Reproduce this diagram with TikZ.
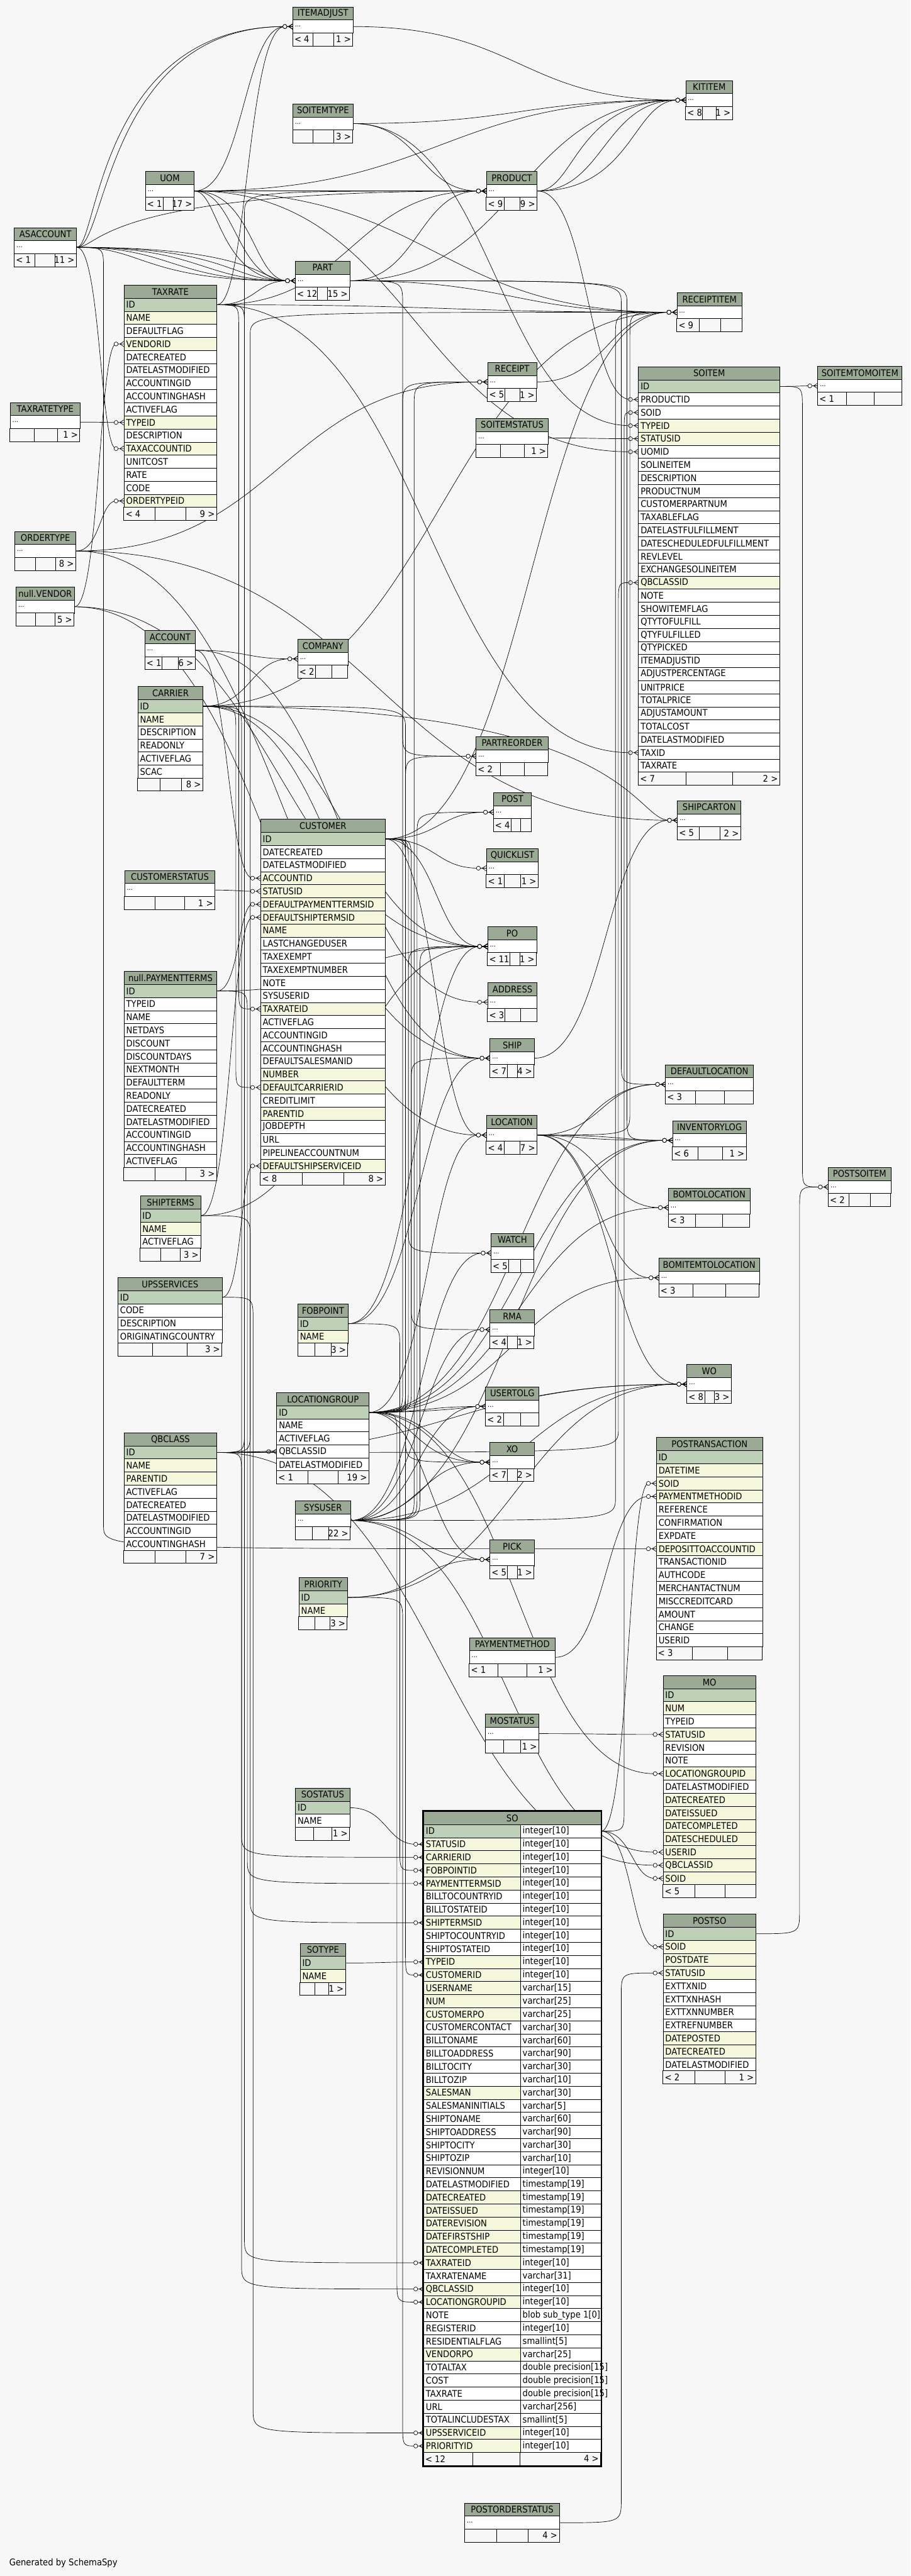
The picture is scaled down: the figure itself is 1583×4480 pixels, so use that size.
\documentclass[tikz,border=0pt]{standalone}
\usepackage{fontspec}
\setmainfont{DejaVu Sans}[FakeStretch=0.9]
\usetikzlibrary{calc}
\definecolor{bgc}{HTML}{F7F7F7}
\definecolor{hdrc}{HTML}{9BAA94}
\definecolor{pkc}{HTML}{BED0B8}
\definecolor{ixc}{HTML}{F4F7DC}
\pgfdeclarelayer{back}\pgfdeclarelayer{edges}\pgfsetlayers{back,edges,main}
\newcommand\tfont{\fontsize{16}{18}\selectfont}
\newcommand\dfont{\fontsize{12}{14}\selectfont}
\def\rh{22.75}
\tikzset{
 tb/.style={draw=black,line width=0.9pt},
 hdr/.style={draw=black,line width=0.9pt,fill=hdrc,anchor=north west,minimum height=\rh,inner sep=0pt,font=\tfont},
 cell/.style={draw=black,line width=0.9pt,anchor=north west,minimum height=\rh,inner sep=0pt,fill=white},
 txt/.style={anchor=west,inner xsep=4pt,inner ysep=0pt,font=\tfont},
 ft/.style={inner xsep=3pt,inner ysep=0pt,font=\tfont},
 rel/.style={draw=black,line width=0.75pt},
 crow/.pic={
  \draw[line width=0.75pt] (-10,0) -- (0,0) (-7,0) -- (0,-4.5) (-7,0) -- (0,4.5);
  \draw[line width=0.75pt,fill=white] (-13.5,0) circle[radius=3.5pt];}
}
% footer: x, y, w, d1, d2, left, right
\newcommand\tfoot[7]{%
  \draw[tb,fill=bgc] ({#1},{#2}) rectangle ++(#3,\rh);
  \draw[tb] ({#4},{#2}) -- ++(0,\rh) ({#5},{#2}) -- ++(0,\rh);
  \node[ft,anchor=west] at ({#1},{#2+\rh/2}) {#6};
  \node[ft,anchor=east] at ({#1+#3},{#2+\rh/2}) {#7};}
% collapsed table: id, x, y, w, title, d1, d2, left, right
\newcommand\ctbl[9]{%
  \node[hdr,minimum width=#4] (#1) at ({#2},{#3}) {#5};
  \node[cell,minimum width=#4] (#1-d) at ({#2},{#3+\rh}) {};
  \node[txt,font=\dfont] at (#1-d.west) {...};
  \tfoot{#2}{#3+2*\rh}{#4}{#6}{#7}{#8}{#9}}
% expanded table: id, x, y, w, title, rows
\newcommand\etbl[6]{%
  \node[hdr,minimum width=#4] (#1) at ({#2},{#3}) {#5};
  \foreach \rn/\rs [count=\i] in {#6} {%
    \node[cell,fill=\rs,minimum width=#4] (#1-\rn) at ({#2},{#3+\i*\rh}) {};
    \node[txt] at (#1-\rn.west) {\rn};}}
% relationships
\newcommand\fk[3][fkm]{%
  \coordinate (fkm) at ($(#2.east)!0.5!(#3.west)$);
  \draw[rel] (#2.east) .. controls (#2.east -| #1) and (#3.west -| #1) .. ($(#3.west)+(-13.5,0)$);
  \pic at (#3.west) {crow};}
\newcommand\fkd[3]{%
  \draw[rel] (#2.east) .. controls (#2.east -| #1) .. ($(#2.east -| #1)+(0,40)$) -- ($(#3.west -| #1)+(0,-40)$) .. controls (#3.west -| #1) .. ($(#3.west)+(-13.5,0)$);
  \pic at (#3.west) {crow};}
\newcommand\fku[3]{%
  \draw[rel] (#2.east) .. controls (#2.east -| #1) .. ($(#2.east -| #1)+(0,-40)$) -- ($(#3.west -| #1)+(0,40)$) .. controls (#3.west -| #1) .. ($(#3.west)+(-13.5,0)$);
  \pic at (#3.west) {crow};}

\begin{document}
\begin{tikzpicture}[x=1pt,y=-1pt]
\useasboundingbox (0,0) rectangle (1583,4480);
\begin{pgfonlayer}{back}\fill[bgc] (0,0) rectangle (1583,4480);\end{pgfonlayer}

\ctbl{ITEMADJUST}{508.7}{11.6}{104.6}{ITEMADJUST}{544.4}{579.6}{< 4}{1 >}
\ctbl{SOITEMTYPE}{508.7}{180.3}{104.6}{SOITEMTYPE}{544.4}{579.6}{}{3 >}
\ctbl{UOM}{252.6}{297.6}{84.6}{UOM}{284.2}{301}{< 1}{17 >}
\ctbl{ASACCOUNT}{24.5}{395.5}{108.2}{ASACCOUNT}{60.7}{95.4}{< 1}{11 >}
\ctbl{PART}{513.3}{453.7}{94.4}{PART}{552}{569.4}{< 12}{15 >}
\etbl{TAXRATE}{215.3}{495.4}{161.2}{TAXRATE}{ID/pkc,NAME/ixc,DEFAULTFLAG/white,VENDORID/ixc,DATECREATED/white,DATELASTMODIFIED/white,ACCOUNTINGID/white,ACCOUNTINGHASH/white,ACTIVEFLAG/white,TYPEID/ixc,DESCRIPTION/white,TAXACCOUNTID/ixc,UNITCOST/white,RATE/white,CODE/white,ORDERTYPEID/ixc}
\tfoot{215.3}{495.4+17*\rh}{161.2}{269.4}{323.5}{< 4}{9 >}
\ctbl{TAXRATETYPE}{17.3}{699.5}{121.5}{TAXRATETYPE}{59.7}{99.5}{}{1 >}
\ctbl{ORDERTYPE}{25.5}{923.7}{106.1}{ORDERTYPE}{61.7}{96.4}{}{8 >}
\ctbl{NVENDOR}{27.6}{1020.7}{101}{null.VENDOR}{61.7}{95.4}{}{5 >}
\ctbl{ACCOUNT}{251.5}{1096.3}{87.8}{ACCOUNT}{281.1}{309.7}{< 1}{6 >}
\ctbl{COMPANY}{517.3}{1111.3}{87.3}{COMPANY}{548.5}{576.5}{< 2}{}
\etbl{CARRIER}{239.3}{1193.7}{113.3}{CARRIER}{ID/pkc,NAME/ixc,DESCRIPTION/white,READONLY/white,ACTIVEFLAG/white,SCAC/white}
\tfoot{239.3}{1193.7+7*\rh}{113.3}{278.1}{315.8}{}{8 >}
\etbl{CUSTOMER}{452.6}{1424.4}{216.8}{CUSTOMER}{ID/pkc,DATECREATED/white,DATELASTMODIFIED/white,ACCOUNTID/ixc,STATUSID/ixc,DEFAULTPAYMENTTERMSID/ixc,DEFAULTSHIPTERMSID/ixc,NAME/ixc,LASTCHANGEDUSER/white,TAXEXEMPT/white,TAXEXEMPTNUMBER/white,NOTE/white,SYSUSERID/white,TAXRATEID/ixc,ACTIVEFLAG/white,ACCOUNTINGID/white,ACCOUNTINGHASH/white,DEFAULTSALESMANID/white,NUMBER/ixc,DEFAULTCARRIERID/ixc,CREDITLIMIT/white,PARENTID/ixc,JOBDEPTH/white,URL/white,PIPELINEACCOUNTNUM/white,DEFAULTSHIPSERVICEID/ixc}
\tfoot{452.6}{1424.4+27*\rh}{216.8}{525.5}{597.4}{< 8}{8 >}
\ctbl{CUSTOMERSTATUS}{216.3}{1513.4}{157.2}{CUSTOMERSTATUS}{269.4}{321.4}{}{1 >}
\etbl{NPAYTERMS}{215.3}{1688.9}{161.2}{null.PAYMENTTERMS}{ID/pkc,TYPEID/white,NAME/white,NETDAYS/white,DISCOUNT/white,DISCOUNTDAYS/white,NEXTMONTH/white,DEFAULTTERM/white,READONLY/white,DATECREATED/white,DATELASTMODIFIED/white,ACCOUNTINGID/white,ACCOUNTINGHASH/white,ACTIVEFLAG/white}
\tfoot{215.3}{1688.9+15*\rh}{161.2}{269.4}{323.5}{}{3 >}
\etbl{SHIPTERMS}{243.4}{2079.6}{105.1}{SHIPTERMS}{ID/pkc,NAME/ixc,ACTIVEFLAG/white}
\tfoot{243.4}{2079.6+4*\rh}{105.1}{279.6}{312.8}{}{3 >}
\etbl{UPSSERVICES}{204.6}{2221.5}{181.1}{UPSSERVICES}{ID/pkc,CODE/white,DESCRIPTION/white,ORIGINATINGCOUNTRY/white}
\tfoot{204.6}{2221.5+5*\rh}{181.1}{265.3}{325.5}{}{3 >}
\etbl{FOBPOINT}{517.3}{2267.5}{87.3}{FOBPOINT}{ID/pkc,NAME/ixc}
\tfoot{517.3}{2267.5+3*\rh}{87.3}{547.4}{575.5}{}{3 >}
\etbl{LOCATIONGROUP}{480.6}{2421.6}{160.7}{LOCATIONGROUP}{ID/pkc,NAME/white,ACTIVEFLAG/white,QBCLASSID/white,DATELASTMODIFIED/white}
\tfoot{480.6}{2421.6+6*\rh}{160.7}{535.7}{588.3}{< 1}{19 >}
\etbl{QBCLASS}{215.3}{2491.4}{161.2}{QBCLASS}{ID/pkc,NAME/ixc,PARENTID/ixc,ACTIVEFLAG/white,DATECREATED/white,DATELASTMODIFIED/white,ACCOUNTINGID/white,ACCOUNTINGHASH/white}
\tfoot{215.3}{2491.4+9*\rh}{161.2}{269.4}{323.5}{}{7 >}
\ctbl{SYSUSER}{513.3}{2609.7}{95.4}{SYSUSER}{543.4}{571.4}{}{22 >}
\etbl{PRIORITY}{519.4}{2743.5}{84.2}{PRIORITY}{ID/pkc,NAME/ixc}
\tfoot{519.4}{2743.5+3*\rh}{84.2}{547.4}{573.5}{}{3 >}
\etbl{SOSTATUS}{513.3}{3109.3}{94.4}{SOSTATUS}{ID/pkc,NAME/white}
\tfoot{513.3}{3109.3+3*\rh}{94.4}{545.4}{576.5}{}{1 >}
\etbl{SOTYPE}{521.4}{3379.3}{79.1}{SOTYPE}{ID/pkc,NAME/ixc}
\tfoot{521.4}{3379.3+3*\rh}{79.1}{547.4}{571.4}{}{1 >}

% SO (selected table)
\node[hdr,minimum width=308] (SO) at (736.2,3150) {SO};
\foreach \rn/\ty/\rs [count=\i] in {ID/integer[10]/pkc, STATUSID/integer[10]/ixc, CARRIERID/integer[10]/ixc, FOBPOINTID/integer[10]/ixc, PAYMENTTERMSID/integer[10]/ixc, BILLTOCOUNTRYID/integer[10]/white, BILLTOSTATEID/integer[10]/white, SHIPTERMSID/integer[10]/ixc, SHIPTOCOUNTRYID/integer[10]/white, SHIPTOSTATEID/integer[10]/white, TYPEID/integer[10]/ixc, CUSTOMERID/integer[10]/ixc, USERNAME/varchar[15]/ixc, NUM/varchar[25]/ixc, CUSTOMERPO/varchar[25]/ixc, CUSTOMERCONTACT/varchar[30]/white, BILLTONAME/varchar[60]/white, BILLTOADDRESS/varchar[90]/white, BILLTOCITY/varchar[30]/white, BILLTOZIP/varchar[10]/white, SALESMAN/varchar[30]/ixc, SALESMANINITIALS/varchar[5]/white, SHIPTONAME/varchar[60]/white, SHIPTOADDRESS/varchar[90]/white, SHIPTOCITY/varchar[30]/white, SHIPTOZIP/varchar[10]/white, REVISIONNUM/integer[10]/white, DATELASTMODIFIED/timestamp[19]/white, DATECREATED/timestamp[19]/ixc, DATEISSUED/timestamp[19]/ixc, DATEREVISION/timestamp[19]/ixc, DATEFIRSTSHIP/timestamp[19]/ixc, DATECOMPLETED/timestamp[19]/ixc, TAXRATEID/integer[10]/ixc, TAXRATENAME/varchar[31]/white, QBCLASSID/integer[10]/ixc, LOCATIONGROUPID/integer[10]/ixc, NOTE/blob sub\_type 1[0]/white, REGISTERID/integer[10]/white, RESIDENTIALFLAG/smallint[5]/white, VENDORPO/varchar[25]/ixc, TOTALTAX/double precision[15]/white, COST/double precision[15]/white, TAXRATE/double precision[15]/white, URL/varchar[256]/white, TOTALINCLUDESTAX/smallint[5]/white, UPSSERVICEID/integer[10]/ixc, PRIORITYID/integer[10]/ixc} {
  \node[cell,fill=\rs,minimum width=168.2] (SO-\rn) at (736.2,{3150+\i*\rh}) {};
  \node[txt] at (SO-\rn.west) {\rn};
  \node[cell,minimum width=139.8] (SO-\rn-t) at (904.4,{3150+\i*\rh}) {};
  \node[txt] at (SO-\rn-t.west) {\ty};}
\tfoot{736.2}{3150+49*\rh}{308}{821.3}{904.4}{< 12}{4 >}
\draw[line width=2.2pt] (734.6,3148.4) rectangle (1045.8,{3150+50*\rh+1.6});

\etbl{MO}{1152.4}{2913.6}{161.2}{MO}{ID/pkc,NUM/ixc,TYPEID/white,STATUSID/ixc,REVISION/white,NOTE/white,LOCATIONGROUPID/ixc,DATELASTMODIFIED/white,DATECREATED/ixc,DATEISSUED/ixc,DATECOMPLETED/ixc,DATESCHEDULED/ixc,USERID/ixc,QBCLASSID/ixc,SOID/ixc}
\tfoot{1152.4}{2913.6+16*\rh}{161.2}{1207.5}{1260.6}{< 5}{}
\etbl{POSTSO}{1152.4}{3328.4}{161.2}{POSTSO}{ID/pkc,SOID/ixc,POSTDATE/ixc,STATUSID/ixc,EXTTXNID/white,EXTTXNHASH/white,EXTTXNNUMBER/white,EXTREFNUMBER/white,DATEPOSTED/ixc,DATECREATED/ixc,DATELASTMODIFIED/white}
\tfoot{1152.4}{3328.4+12*\rh}{161.2}{1207.5}{1260.6}{< 2}{1 >}
\ctbl{MOSTATUS}{843.7}{2980.4}{92.9}{MOSTATUS}{875.3}{905.4}{}{1 >}
\ctbl{POSTORDERSTATUS}{807.5}{4352.7}{164.8}{POSTORDERSTATUS}{863.6}{917.7}{}{4 >}
\ctbl{PAYMENTMETHOD}{815.7}{2847.7}{148.9}{PAYMENTMETHOD}{865.7}{915.7}{< 1}{1 >}
\etbl{POSTRANSACTION}{1140.7}{2499.7}{184.7}{POSTRANSACTION}{ID/pkc,DATETIME/ixc,SOID/ixc,PAYMENTMETHODID/ixc,REFERENCE/white,CONFIRMATION/white,EXPDATE/white,DEPOSITTOACCOUNTID/ixc,TRANSACTIONID/white,AUTHCODE/white,MERCHANTACTNUM/white,MISCCREDITCARD/white,AMOUNT/white,CHANGE/white,USERID/white}
\tfoot{1140.7}{2499.7+16*\rh}{184.7}{1203.4}{1264.6}{< 3}{}
\ctbl{WO}{1193.7}{2372.7}{77.6}{WO}{1225.9}{1241.7}{< 8}{3 >}
\ctbl{RMA}{851.4}{2277.7}{77}{RMA}{882}{899.3}{< 4}{1 >}
\ctbl{USERTOLG}{843.7}{2411.5}{92.9}{USERTOLG}{875.3}{905.4}{< 2}{}
\ctbl{XO}{851.4}{2508.4}{77}{XO}{882}{899.3}{< 7}{2 >}
\ctbl{PICK}{851.4}{2677.6}{77}{PICK}{882}{899.3}{< 5}{1 >}
\ctbl{BOMITEMTOLOCATION}{1145.2}{2187.7}{174.5}{BOMITEMTOLOCATION}{1204.4}{1261.6}{< 3}{}
\ctbl{BOMTOLOCATION}{1161.6}{2065.6}{141.8}{BOMTOLOCATION}{1209.5}{1256.5}{< 3}{}
\ctbl{INVENTORYLOG}{1168.7}{1948.7}{128.6}{INVENTORYLOG}{1213.1}{1256}{< 6}{1 >}
\ctbl{DEFAULTLOCATION}{1156.5}{1851.3}{153}{DEFAULTLOCATION}{1208.5}{1259.5}{< 3}{}
\ctbl{POSTSOITEM}{1439.6}{2029.7}{108.7}{POSTSOITEM}{1476.4}{1513.1}{< 2}{}
\ctbl{WATCH}{853.4}{2144.6}{74}{WATCH}{884.5}{905.4}{< 5}{}
\ctbl{LOCATION}{845.2}{1939.5}{88.3}{LOCATION}{876.4}{903.9}{< 4}{7 >}
\ctbl{SHIP}{851.4}{1805.7}{77}{SHIP}{881.5}{899.3}{< 7}{4 >}
\ctbl{ADDRESS}{847.3}{1708.3}{86.2}{ADDRESS}{877.9}{905.4}{< 3}{}
\ctbl{PO}{847.3}{1611.4}{85.2}{PO}{886.1}{903.4}{< 11}{1 >}
\ctbl{QUICKLIST}{845.2}{1475.3}{90.4}{QUICKLIST}{876.9}{905.4}{< 1}{1 >}
\ctbl{POST}{857.5}{1377.9}{65.8}{POST}{889.1}{905.4}{< 4}{}
\ctbl{PARTREORDER}{827.4}{1280.5}{125}{PARTREORDER}{869.7}{911.6}{< 2}{}
\ctbl{SHIPCARTON}{1177.4}{1392}{110.2}{SHIPCARTON}{1215.7}{1251.4}{< 5}{2 >}
\etbl{SOITEM}{1109.5}{637.4}{245.9}{SOITEM}{ID/pkc,PRODUCTID/white,SOID/white,TYPEID/ixc,STATUSID/ixc,UOMID/white,SOLINEITEM/white,DESCRIPTION/white,PRODUCTNUM/white,CUSTOMERPARTNUM/white,TAXABLEFLAG/white,DATELASTFULFILLMENT/white,DATESCHEDULEDFULFILLMENT/white,REVLEVEL/white,EXCHANGESOLINEITEM/white,QBCLASSID/ixc,NOTE/white,SHOWITEMFLAG/white,QTYTOFULFILL/white,QTYFULFILLED/white,QTYPICKED/white,ITEMADJUSTID/white,ADJUSTPERCENTAGE/white,UNITPRICE/white,TOTALPRICE/white,ADJUSTAMOUNT/white,TOTALCOST/white,DATELASTMODIFIED/white,TAXID/white,TAXRATE/white}
\tfoot{1109.5}{637.4+31*\rh}{245.9}{1192.7}{1273.3}{< 7}{2 >}
\ctbl{SOITEMSTATUS}{827.4}{727.1}{125}{SOITEMSTATUS}{870.2}{911.6}{}{1 >}
\ctbl{SOITEMTOMOITEM}{1421.3}{636.5}{146.4}{SOITEMTOMOITEM}{1471.3}{1519.7}{< 1}{}
\ctbl{RECEIPT}{847.3}{629.7}{85.2}{RECEIPT}{877.9}{903.4}{< 5}{1 >}
\ctbl{RECEIPTITEM}{1176.4}{508.5}{113.2}{RECEIPTITEM}{1215.7}{1252.4}{< 9}{}
\ctbl{PRODUCT}{845.2}{297.6}{88.3}{PRODUCT}{876.4}{904.4}{< 9}{9 >}
\ctbl{KITITEM}{1191.7}{139.6}{81.6}{KITITEM}{1221.3}{1244.7}{< 8}{1 >}

\node[anchor=west,inner sep=0pt,font=\tfont] (gen) at (16,4458) {Generated by SchemaSpy};

\foreach \x in {150,155,...,1420} {\coordinate (c\x) at (\x,0);}

\begin{pgfonlayer}{edges}
% ASACCOUNT
\fk[c170]{ASACCOUNT-d}{ITEMADJUST-d}
\fk[c185]{ASACCOUNT-d}{ITEMADJUST-d}
\fk[c250]{ASACCOUNT-d}{PART-d}
\fk[c300]{ASACCOUNT-d}{PART-d}
\fk[c350]{ASACCOUNT-d}{PART-d}
\fk[c400]{ASACCOUNT-d}{PART-d}
\fk[c450]{ASACCOUNT-d}{PART-d}
\fk[c175]{ASACCOUNT-d}{PRODUCT-d}
\fk{ASACCOUNT-d}{TAXRATE-TAXACCOUNTID}
\fkd{c180}{ASACCOUNT-d}{POSTRANSACTION-DEPOSITTOACCOUNTID}
% UOM
\fk{UOM-d}{ITEMADJUST-d}
\fk{UOM-d}{KITITEM-d}
\fk[c380]{UOM-d}{PART-d}
\fk[c410]{UOM-d}{PART-d}
\fk[c440]{UOM-d}{PART-d}
\fk[c500]{UOM-d}{PRODUCT-d}
\fk[c600]{UOM-d}{PRODUCT-d}
\fk[c700]{UOM-d}{PRODUCT-d}
\fk{UOM-d}{RECEIPTITEM-d}
\fk{UOM-d}{SOITEM-UOMID}
% SOITEMTYPE / ITEMADJUST
\fk{SOITEMTYPE-d}{KITITEM-d}
\fk{SOITEMTYPE-d}{SOITEM-TYPEID}
\fk{SOITEMTYPE-d}{PRODUCT-d}
\fk{ITEMADJUST-d}{KITITEM-d}
% PART
\fk{PART-d}{PRODUCT-d}
\fk{PART-d}{KITITEM-d}
\fk{PART-d}{RECEIPTITEM-d}
\fkd{c700}{PART-d}{PARTREORDER-d}
\fkd{c1080}{PART-d}{DEFAULTLOCATION-d}
\fkd{c1090}{PART-d}{INVENTORYLOG-d}
% PRODUCT
\fk[c1000]{PRODUCT-d}{KITITEM-d}
\fk[c1050]{PRODUCT-d}{KITITEM-d}
\fk[c1100]{PRODUCT-d}{KITITEM-d}
\fk{PRODUCT-d}{SOITEM-PRODUCTID}
% TAXRATE
\fk[c430]{TAXRATE-ID}{ITEMADJUST-d}
\fk{TAXRATE-ID}{PART-d}
\fk{TAXRATE-ID}{PRODUCT-d}
\fkd{c415}{TAXRATE-ID}{CUSTOMER-TAXRATEID}
\fkd{c425}{TAXRATE-ID}{SO-TAXRATEID}
\fk{TAXRATE-ID}{SOITEM-TAXID}
\fk{TAXRATE-ID}{RECEIPTITEM-d}
% small left tables
\fk{TAXRATETYPE-d}{TAXRATE-TYPEID}
\fk{ORDERTYPE-d}{TAXRATE-ORDERTYPEID}
\fk{ORDERTYPE-d}{RECEIPT-d}
\fk{ORDERTYPE-d}{SHIPCARTON-d}
\fk{ORDERTYPE-d}{SHIP-d}
\fk{NVENDOR-d}{TAXRATE-VENDORID}
\fk{NVENDOR-d}{PO-d}
\fk{NVENDOR-d}{LOCATION-d}
\fk{ACCOUNT-d}{COMPANY-d}
\fk{ACCOUNT-d}{CUSTOMER-ACCOUNTID}
\fk{ACCOUNT-d}{ADDRESS-d}
% CARRIER
\fk{CARRIER-ID}{COMPANY-d}
\fkd{c410}{CARRIER-ID}{CUSTOMER-DEFAULTCARRIERID}
\fkd{c420}{CARRIER-ID}{SO-CARRIERID}
\fk[c1100]{CARRIER-ID}{SHIPCARTON-d}
\fk{CARRIER-ID}{SHIP-d}
\fk{CARRIER-ID}{PO-d}
\fkd{c705}{CARRIER-ID}{XO-d}
\fk{CARRIER-ID}{RECEIPTITEM-d}
\fk{CUSTOMERSTATUS-d}{CUSTOMER-STATUSID}
% PAYMENTTERMS / SHIPTERMS / UPSSERVICES
\fk{NPAYTERMS-ID}{CUSTOMER-DEFAULTPAYMENTTERMSID}
\fkd{c430}{NPAYTERMS-ID}{SO-PAYMENTTERMSID}
\fk{NPAYTERMS-ID}{PO-d}
\fk{SHIPTERMS-ID}{CUSTOMER-DEFAULTSHIPTERMSID}
\fkd{c435}{SHIPTERMS-ID}{SO-SHIPTERMSID}
\fk{SHIPTERMS-ID}{PO-d}
\fk{UPSSERVICES-ID}{CUSTOMER-DEFAULTSHIPSERVICEID}
\fkd{c440}{UPSSERVICES-ID}{SO-UPSSERVICEID}
% FOBPOINT
\fkd{c695}{FOBPOINT-ID}{SO-FOBPOINTID}
\fk{FOBPOINT-ID}{PO-d}
\fk{FOBPOINT-ID}{SHIP-d}
% LOCATIONGROUP
\fkd{c690}{LOCATIONGROUP-ID}{SO-LOCATIONGROUPID}
\fk{LOCATIONGROUP-ID}{MO-LOCATIONGROUPID}
\fku{c700}{LOCATIONGROUP-ID}{RECEIPT-d}
\fku{c705}{LOCATIONGROUP-ID}{PARTREORDER-d}
\fku{c710}{LOCATIONGROUP-ID}{PO-d}
\fku{c715}{LOCATIONGROUP-ID}{SHIP-d}
\fk{LOCATIONGROUP-ID}{LOCATION-d}
\fk{LOCATIONGROUP-ID}{DEFAULTLOCATION-d}
\fk{LOCATIONGROUP-ID}{INVENTORYLOG-d}
\fk{LOCATIONGROUP-ID}{BOMTOLOCATION-d}
\fk{LOCATIONGROUP-ID}{BOMITEMTOLOCATION-d}
\fk{LOCATIONGROUP-ID}{USERTOLG-d}
\fk[c720]{LOCATIONGROUP-ID}{XO-d}
\fk[c760]{LOCATIONGROUP-ID}{XO-d}
\fk{LOCATIONGROUP-ID}{PICK-d}
\fk{LOCATIONGROUP-ID}{WO-d}
% QBCLASS
\fk{QBCLASS-ID}{LOCATIONGROUP-QBCLASSID}
\fkd{c420}{QBCLASS-ID}{SO-QBCLASSID}
\fku{c1075}{QBCLASS-ID}{SOITEM-QBCLASSID}
\fk{QBCLASS-ID}{MO-QBCLASSID}
\fku{c425}{QBCLASS-ID}{PRODUCT-d}
\fku{c435}{QBCLASS-ID}{RECEIPTITEM-d}
\fk{QBCLASS-ID}{WO-d}
% SYSUSER
\fk{SYSUSER-d}{MO-USERID}
\fku{c720}{SYSUSER-d}{RECEIPT-d}
\fku{c725}{SYSUSER-d}{POST-d}
\fku{c730}{SYSUSER-d}{PO-d}
\fk{SYSUSER-d}{INVENTORYLOG-d}
\fk{SYSUSER-d}{WATCH-d}
\fk{SYSUSER-d}{RMA-d}
\fk{SYSUSER-d}{USERTOLG-d}
\fk{SYSUSER-d}{XO-d}
\fk{SYSUSER-d}{PICK-d}
\fk{SYSUSER-d}{WO-d}
\fku{c1070}{SYSUSER-d}{RECEIPTITEM-d}
% PRIORITY / SOSTATUS / SOTYPE
\fkd{c700}{PRIORITY-ID}{SO-PRIORITYID}
\fk{PRIORITY-ID}{PICK-d}
\fk{PRIORITY-ID}{WO-d}
\fk{SOSTATUS-ID}{SO-STATUSID}
\fk{SOTYPE-ID}{SO-TYPEID}
% CUSTOMER
\fkd{c705}{CUSTOMER-ID}{SO-CUSTOMERID}
\fk{CUSTOMER-ID}{POST-d}
\fk{CUSTOMER-ID}{QUICKLIST-d}
\fk{CUSTOMER-ID}{PO-d}
\fk{CUSTOMER-ID}{LOCATION-d}
\fkd{c710}{CUSTOMER-ID}{WATCH-d}
\fkd{c715}{CUSTOMER-ID}{RMA-d}
\fk{CUSTOMER-ID}{RECEIPTITEM-d}
% SO and right side
\fku{c1085}{SO-ID-t}{SOITEM-SOID}
\fk{SO-ID-t}{POSTRANSACTION-SOID}
\fk{SO-ID-t}{MO-SOID}
\fk{SO-ID-t}{POSTSO-SOID}
\fk{MOSTATUS-d}{MO-STATUSID}
\fku{c1080}{POSTORDERSTATUS-d}{POSTSO-STATUSID}
\fk{PAYMENTMETHOD-d}{POSTRANSACTION-PAYMENTMETHODID}
\fk{SOITEMSTATUS-d}{SOITEM-STATUSID}
\fk{SOITEM-ID}{SOITEMTOMOITEM-d}
\fkd{c1395}{SOITEM-ID}{POSTSOITEM-d}
\fku{c1390}{POSTSO-ID}{POSTSOITEM-d}
\fk{RECEIPT-d}{RECEIPTITEM-d}
\fk{SHIP-d}{SHIPCARTON-d}
% LOCATION
\fk{LOCATION-d}{DEFAULTLOCATION-d}
\fk[c1000]{LOCATION-d}{INVENTORYLOG-d}
\fk[c1080]{LOCATION-d}{INVENTORYLOG-d}
\fk{LOCATION-d}{BOMTOLOCATION-d}
\fk{LOCATION-d}{BOMITEMTOLOCATION-d}
\fku{c1095}{LOCATION-d}{RECEIPTITEM-d}
\fk{LOCATION-d}{WO-d}
\end{pgfonlayer}
\end{tikzpicture}
\end{document}
